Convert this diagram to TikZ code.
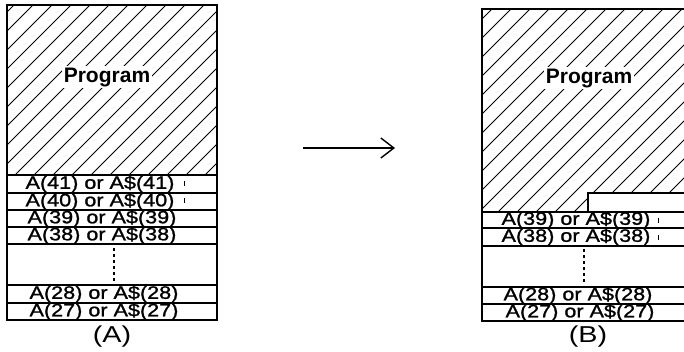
\documentclass[tikz,border=0pt]{standalone}
\usepackage{fontspec}
\setmainfont{Liberation Sans}
\newfontfamily\rowfont[FakeStretch=1.2,FakeBold=1.2]{Liberation Sans}
\newfontfamily\capfont[FakeStretch=1.25]{Liberation Sans}
\usetikzlibrary{arrows.meta}
\begin{document}
\begin{tikzpicture}[x=1pt,y=-1pt,
  outline/.style={line width=1.4pt},
  hatch/.style={line width=0.8pt},
  rowline/.style={line width=1.2pt},
  rowtext/.style={font=\rowfont\fontsize{18}{19}\selectfont, inner sep=0pt},
  prog/.style={font=\bfseries\fontsize{21}{22}\selectfont, fill=white, inner sep=1.5pt},
  dots/.style={line width=1.2pt, dash pattern=on 3pt off 3pt},
  tickmark/.style={line width=0.8pt},
  caption/.style={font=\capfont\fontsize{23}{24}\selectfont, inner sep=0pt}]
\clip (0,0) rectangle (684,351);
\fill[white] (0,0) rectangle (684,351);
% ---------- (A) ----------
\begin{scope}
  \clip (7,5) rectangle (217,175);
  \foreach \c in {0,19,...,420} \draw[hatch] (\c,0) -- ++(-440,440);
\end{scope}
\node[prog] (progA) at (107,77) {Program};
\draw[outline] (7,5) rectangle (217,320);
\foreach \y in {175,193,210,227,244,285,303} \draw[rowline] (7,\y) -- (217,\y);
\node[rowtext] (a41) at (100,184) {A(41) or A\$(41)};
\node[rowtext] (a40) at (100,201.5) {A(40) or A\$(40)};
\node[rowtext] (a39) at (102,218.5) {A(39) or A\$(39)};
\node[rowtext] (a38) at (102,235.5) {A(38) or A\$(38)};
\node[rowtext] (a28) at (104,294) {A(28) or A\$(28)};
\node[rowtext] (a27) at (104,311.5) {A(27) or A\$(27)};
\draw[dots] (114,248) -- (114,283);
\draw[tickmark] (184,181) -- (184,186);
\draw[tickmark] (184,198) -- (184,203);
\node[caption] (capA) at (112,337) {(A)};
% ---------- arrow ----------
\coordinate (arS) at (303,148);
\coordinate (arE) at (395,148);
\draw[line width=1.2pt, -{Straight Barb[length=13pt,width=20pt,line width=1.4pt]}] (arS) -- (arE);
% ---------- (B) ----------
\begin{scope}
  \clip (482,9) -- (700,9) -- (700,193) -- (588,193) -- (588,212) -- (482,212) -- cycle;
  \foreach \c in {482,501,...,940} \draw[hatch] (\c,0) -- ++(-460,460);
\end{scope}
\node[prog] (progB) at (589,78) {Program};
\draw[outline] (700,9) -- (482,9) -- (482,321) -- (700,321);
\draw[rowline] (588,212) -- (588,193) -- (700,193);
\foreach \y in {212,228,246,287,304} \draw[rowline] (482,\y) -- (700,\y);
\node[rowtext] (b39) at (576,220) {A(39) or A\$(39)};
\node[rowtext] (b38) at (576,237) {A(38) or A\$(38)};
\node[rowtext] (b28) at (578,295.5) {A(28) or A\$(28)};
\node[rowtext] (b27) at (580,312.5) {A(27) or A\$(27)};
\draw[dots] (584,249) -- (584,283);
\draw[tickmark] (658,218) -- (658,223);
\draw[tickmark] (658,235) -- (658,240);
\node[caption] (capB) at (588,337) {(B)};
\end{tikzpicture}
\end{document}
